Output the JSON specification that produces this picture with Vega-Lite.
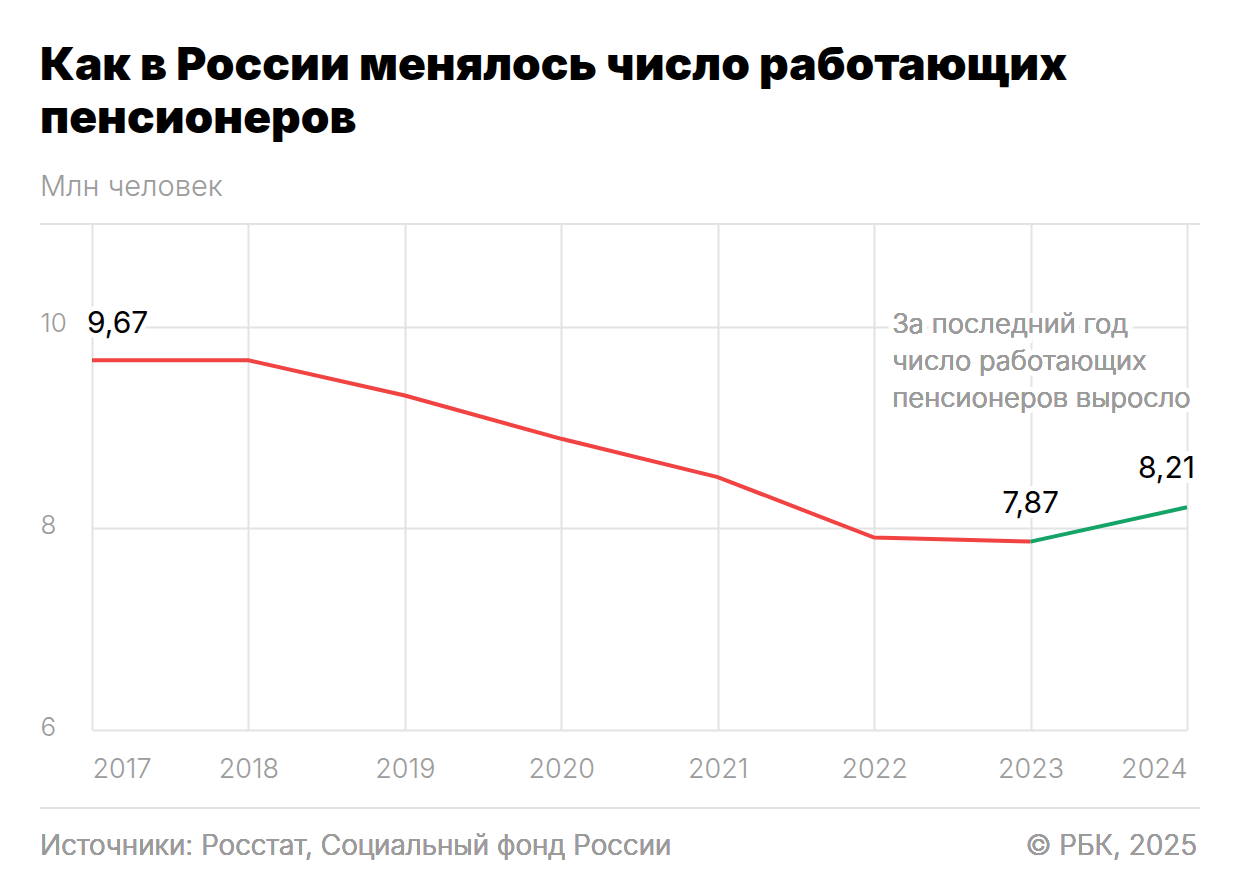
{
  "$schema": "https://vega.github.io/schema/vega-lite/v6.json",
  "autosize": {"type": "none"},
  "width": 1095,
  "height": 506,
  "padding": {"left": 92, "top": 224, "right": 53, "bottom": 166},
  "background": "white",
  "config": {
    "view": {"stroke": null},
    "font": "Inter",
    "locale": {"number": {"decimal": ",", "thousands": " ", "grouping": [3], "currency": ["", ""]}}
  },
  "title": {
    "text": ["Как в России менялось число работающих", "пенсионеров"],
    "subtitle": "Млн человек",
    "anchor": "start",
    "frame": "group",
    "dx": -52,
    "font": "Inter",
    "fontWeight": 900,
    "fontSize": 46,
    "lineHeight": 53,
    "color": "#000000",
    "subtitleFont": "Inter",
    "subtitleFontWeight": 300,
    "subtitleFontSize": 29,
    "subtitleColor": "#9b9b9b",
    "subtitlePadding": 30,
    "offset": 20
  },
  "data": {
    "values": [
      {"year": 2017, "value": 9.67, "seg": "red"},
      {"year": 2018, "value": 9.67, "seg": "red"},
      {"year": 2019, "value": 9.32, "seg": "red"},
      {"year": 2020, "value": 8.89, "seg": "red"},
      {"year": 2021, "value": 8.51, "seg": "red"},
      {"year": 2022, "value": 7.91, "seg": "red"},
      {"year": 2023, "value": 7.87, "seg": "red"},
      {"year": 2023, "value": 7.87, "seg": "green"},
      {"year": 2024, "value": 8.21, "seg": "green"}
    ]
  },
  "encoding": {
    "x": {
      "field": "year", "type": "quantitative",
      "scale": {"domain": [2017, 2024], "nice": false, "zero": false},
      "axis": {
        "values": [2017, 2018, 2019, 2020, 2021, 2022, 2023, 2024],
        "format": "d", "title": null, "grid": true, "gridColor": "#e3e3e3", "gridWidth": 2,
        "domain": false, "ticks": false, "tickSize": 0, "labelPadding": 47,
        "labelBaseline": "alphabetic", "labelFlush": true,
        "labelFont": "Inter", "labelFontWeight": 300, "labelFontSize": 27, "labelColor": "#9b9b9b"
      }
    },
    "y": {
      "field": "value", "type": "quantitative",
      "scale": {"domain": [6, 11.022], "nice": false, "zero": false},
      "axis": {
        "values": [6, 8, 10], "title": null, "grid": true, "gridColor": "#e3e3e3", "gridWidth": 2,
        "domain": false, "ticks": false, "tickSize": 0, "labelPadding": 52,
        "labelAlign": "left", "labelBaseline": "alphabetic", "labelOffset": 5,
        "labelFont": "Inter", "labelFontWeight": 300, "labelFontSize": 26, "labelColor": "#9b9b9b"
      }
    }
  },
  "layer": [
    {
      "mark": {"type": "rule", "color": "#e3e3e3", "strokeWidth": 2},
      "encoding": {
        "x": {"datum": 2016.6676}, "x2": {"datum": 2024.083},
        "y": {"datum": 11.022}
      }
    },
    {
      "mark": {"type": "rule", "color": "#e3e3e3", "strokeWidth": 2},
      "encoding": {
        "x": {"datum": 2016.6676}, "x2": {"datum": 2024.083},
        "y": {"datum": 5.226}
      }
    },
    {
      "mark": {"type": "line", "strokeWidth": 4},
      "encoding": {
        "color": {"field": "seg", "type": "nominal", "legend": null,
          "scale": {"domain": ["red", "green"], "range": ["#f24343", "#14a467"]}},
        "detail": {"field": "seg"}
      }
    },
    {
      "transform": [{"filter": "datum.year == 2017"}],
      "mark": {"type": "text", "align": "left", "baseline": "alphabetic", "dx": -5, "dy": -27, "fontSize": 30, "fontWeight": 400, "font": "Inter", "fill": "white", "stroke": "white", "strokeWidth": 10},
      "encoding": {"text": {"field": "value", "type": "quantitative", "format": ".2f"}}
    },
    {
      "transform": [{"filter": "datum.year == 2017"}],
      "mark": {"type": "text", "align": "left", "baseline": "alphabetic", "dx": -5, "dy": -27, "fontSize": 30, "fontWeight": 400, "font": "Inter", "color": "#000000"},
      "encoding": {"text": {"field": "value", "type": "quantitative", "format": ".2f"}}
    },
    {
      "transform": [{"filter": "datum.year == 2023 && datum.seg == 'green'"}],
      "mark": {"type": "text", "align": "center", "baseline": "alphabetic", "dy": -29, "fontSize": 30, "fontWeight": 400, "font": "Inter", "fill": "white", "stroke": "white", "strokeWidth": 10},
      "encoding": {"text": {"field": "value", "type": "quantitative", "format": ".2f"}}
    },
    {
      "transform": [{"filter": "datum.year == 2023 && datum.seg == 'green'"}],
      "mark": {"type": "text", "align": "center", "baseline": "alphabetic", "dy": -29, "fontSize": 30, "fontWeight": 400, "font": "Inter", "color": "#000000"},
      "encoding": {"text": {"field": "value", "type": "quantitative", "format": ".2f"}}
    },
    {
      "transform": [{"filter": "datum.year == 2024"}],
      "mark": {"type": "text", "align": "right", "baseline": "alphabetic", "dx": 8, "dy": -29, "fontSize": 30, "fontWeight": 400, "font": "Inter", "fill": "white", "stroke": "white", "strokeWidth": 10},
      "encoding": {"text": {"field": "value", "type": "quantitative", "format": ".2f"}}
    },
    {
      "transform": [{"filter": "datum.year == 2024"}],
      "mark": {"type": "text", "align": "right", "baseline": "alphabetic", "dx": 8, "dy": -29, "fontSize": 30, "fontWeight": 400, "font": "Inter", "color": "#000000"},
      "encoding": {"text": {"field": "value", "type": "quantitative", "format": ".2f"}}
    },
    {
      "mark": {"type": "text", "align": "left", "baseline": "alphabetic", "dx": 18, "dy": 6, "lineHeight": 37, "fontSize": 27.5, "fontWeight": 300, "font": "Inter", "fill": "white", "stroke": "white", "strokeWidth": 10,
        "text": ["За последний год", "число работающих", "пенсионеров выросло"]},
      "encoding": {"x": {"datum": 2022}, "y": {"datum": 10}}
    },
    {
      "mark": {"type": "text", "align": "left", "baseline": "alphabetic", "dx": 18, "dy": 6, "lineHeight": 37, "fontSize": 27.5, "fontWeight": 300, "font": "Inter", "color": "#9b9b9b",
        "text": ["За последний год", "число работающих", "пенсионеров выросло"]},
      "encoding": {"x": {"datum": 2022}, "y": {"datum": 10}}
    },
    {
      "mark": {"type": "text", "align": "left", "baseline": "alphabetic", "fontSize": 28, "fontWeight": 300, "font": "Inter", "color": "#9b9b9b",
        "text": "Источники: Росстат, Социальный фонд России"},
      "encoding": {"x": {"datum": 2016.6676}, "y": {"datum": 4.76}}
    },
    {
      "mark": {"type": "text", "align": "right", "baseline": "alphabetic", "fontSize": 28, "fontWeight": 300, "font": "Inter", "color": "#9b9b9b",
        "text": "© РБК, 2025"},
      "encoding": {"x": {"datum": 2024.064}, "y": {"datum": 4.76}}
    }
  ]
}
